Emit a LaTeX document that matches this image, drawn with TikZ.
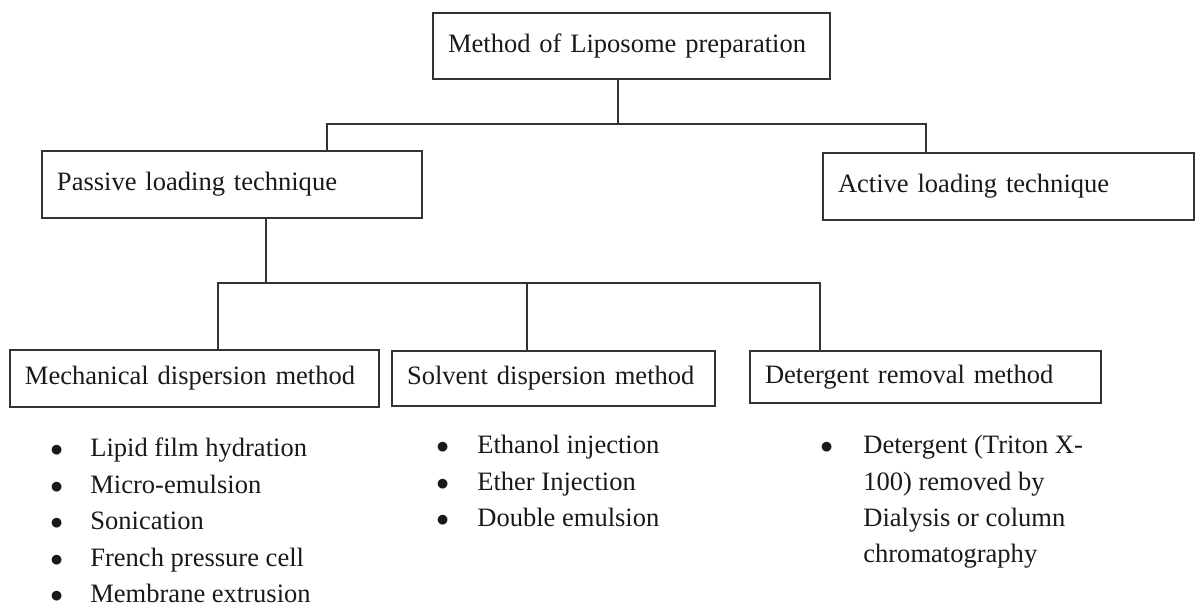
\documentclass[tikz,border=0pt]{standalone}
\usepackage{fontspec}
\setmainfont{Liberation Serif}
\begin{document}
\begin{tikzpicture}[
    font=\fontsize{15.1}{20.5}\selectfont,
    box/.style={draw=black!80, line width=1pt, align=left, inner xsep=0.3cm, inner ysep=0pt, text=black!90},
    link/.style={draw=black!80, line width=1pt},
    items/.style={anchor=base west, inner sep=0pt, text=black!90}
  ]
  \useasboundingbox (0,0) rectangle (23.92,12.16);

  \node[box, text width=7.34cm, minimum height=1.32cm] (method) at (12.63,11.24) {Method of Liposome preparation};
  \node[box, text width=7.00cm, minimum height=1.34cm] (passive) at (4.64,8.47) {Passive loading technique};
  \node[box, text width=6.82cm, minimum height=1.34cm] (active) at (20.17,8.43) {Active loading technique};

  \node[box, text width=6.78cm, minimum height=1.14cm] (mech) at (3.89,4.59) {Mechanical dispersion method};
  \node[box, text width=5.86cm, minimum height=1.10cm] (solvent) at (11.07,4.59) {Solvent dispersion method};
  \node[box, text width=6.42cm, minimum height=1.04cm] (deterg) at (18.51,4.62) {Detergent removal method};

  % first split
  \coordinate (topjoin) at (12.36,9.68);
  \coordinate (pj) at (6.54,9.68);
  \coordinate (aj) at (18.52,9.68);
  \draw[link] (method.south -| topjoin) -- (topjoin);
  \draw[link] (passive.north -| pj) -- (pj) -- (aj) -- (active.north -| aj);

  % second split
  \coordinate (midjoin) at (5.32,6.5);
  \coordinate (mj) at (4.36,6.5);
  \coordinate (sj) at (10.54,6.5);
  \coordinate (dj) at (16.4,6.5);
  \draw[link] (passive.south -| midjoin) -- (midjoin);
  \draw[link] (mech.north -| mj) -- (mj) -- (dj) -- (deterg.north -| dj);
  \draw[link] (solvent.north -| sj) -- (sj);

  % bullet lists
  \node[items, font=\fontsize{15.1}{20.7}\selectfont] (mechlist) at (1.0,3.02) {\begin{tabular}[t]{@{}p{0.8cm}@{}l@{}}
    $\bullet$ & Lipid film hydration\\
    $\bullet$ & Micro-emulsion\\
    $\bullet$ & Sonication\\
    $\bullet$ & French pressure cell\\
    $\bullet$ & Membrane extrusion
  \end{tabular}};
  \node[items] (solvlist) at (8.72,3.08) {\begin{tabular}[t]{@{}p{0.82cm}@{}l@{}}
    $\bullet$ & Ethanol injection\\
    $\bullet$ & Ether Injection\\
    $\bullet$ & Double emulsion
  \end{tabular}};
  \node[items] (detlist) at (16.4,3.08) {\begin{tabular}[t]{@{}p{0.86cm}@{}l@{}}
    $\bullet$ & Detergent (Triton X-\\
     & 100) removed by\\
     & Dialysis or column\\
     & chromatography
  \end{tabular}};
\end{tikzpicture}
\end{document}
